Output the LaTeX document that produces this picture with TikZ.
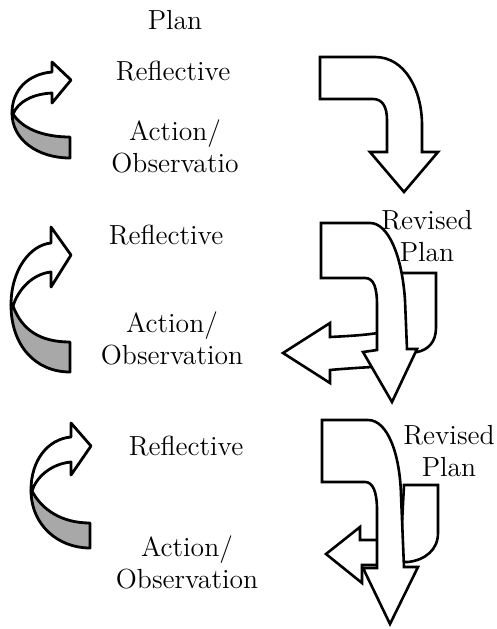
\documentclass[tikz,border=0pt]{standalone}
\usepackage{xcolor}
\usepackage{tikz}
\definecolor{bandGray}{HTML}{A8A8A8}

\begin{document}
\begin{tikzpicture}[x=0.5pt,y=-0.5pt,
  lbl/.style={font=\fontsize{13.8}{16}\selectfont,inner sep=0pt,align=center},
  front/.style={draw=black,fill=white,line width=1.4pt,line join=round},
  back/.style={draw=black,fill=bandGray,line width=1.4pt,line join=round},
  turn/.style={draw=black,fill=white,line width=1.3pt}]
\useasboundingbox (0,0) rectangle (497,629);
% left: curved arrows
\draw[back] (12,113) .. controls (12,140) and (38,158) .. (70,158) -- (70,137) .. controls (42,137) and (22,128) .. (13,114) -- cycle;
\draw[front] (52,72) .. controls (28,74) and (12,90) .. (12,113) -- (13,114) .. controls (18,102) and (32,94) .. (52,93) -- (52,103) -- (71,80) -- (52,62) -- cycle;
\draw[back] (11,305) .. controls (11,345) and (35,372) .. (70,372) -- (70,342) .. controls (40,342) and (22,330) .. (13,306) -- cycle;
\draw[front] (51,243) .. controls (30,245) and (11,270) .. (11,305) -- (13,306) .. controls (18,290) and (32,274) .. (51,272) -- (51,287) -- (71,255) -- (51,227) -- cycle;
\draw[back] (31,490) .. controls (31,525) and (58,548) .. (90,548) -- (90,523) .. controls (62,523) and (42,510) .. (32,491) -- cycle;
\draw[front] (71,437) .. controls (48,439) and (31,460) .. (31,490) -- (32,491) .. controls (36,478) and (50,464) .. (71,462) -- (71,475) -- (91,446) -- (71,423) -- cycle;
% right: bent arrows
\draw[turn] (320,57) -- (375,57) .. controls (405,57) and (422,90) .. (422,125) -- (422,152) -- (438,152) -- (404,192) -- (370,152) -- (387,152) -- (387,120) .. controls (387,106) and (382,99) .. (373,99) -- (320,99) -- cycle;
\draw[turn] (398,273) -- (436,273) -- (436,328) .. controls (436,342) and (428,350) .. (417,352) -- (400,352) -- cycle;
\draw[turn] (283,353) -- (330,323) -- (330,337) .. controls (350,336) and (365,335) .. (378,333) -- (395,333) -- (395,367) -- (372,367) .. controls (355,368) and (340,369) .. (330,370) -- (330,383) -- cycle;
\draw[turn] (321,223) -- (370,223) .. controls (388,223) and (402,255) .. (405,300) -- (407,349) -- (417,349) -- (392,402) -- (363,352) -- (377,350) -- (377,305) .. controls (377,288) and (374,278) .. (365,278) -- (321,278) -- cycle;
\draw[turn] (404,485) -- (438,485) -- (438,533) .. controls (438,550) and (425,560) .. (408,562) -- (400,562) -- cycle;
\draw[turn] (326,554) -- (360,527) -- (360,540) -- (395,540) -- (395,565) -- (362,565) -- (362,583) -- cycle;
\draw[turn] (322,420) -- (368,420) .. controls (388,420) and (400,455) .. (401,495) -- (404,567) -- (418,567) -- (390,624) -- (363,568) -- (377,568) -- (377,510) .. controls (377,492) and (373,482) .. (365,482) -- (322,482) -- cycle;
% labels
\node[lbl,anchor=base] (plan) at (175,29) {Plan};
\node[lbl,anchor=base] (refl1) at (173,80) {Reflective};
\node[lbl] (act1) at (175,146) {Action/\\Observatio};
\node[lbl,anchor=base] (refl2) at (166,244) {Reflective};
\node[lbl] (act2) at (172,338) {Action/\\Observation};
\node[lbl,anchor=base] (refl3) at (186,455) {Reflective};
\node[lbl] (act3) at (187,562) {Action/\\Observation};
\node[lbl] (rev1) at (427,236) {Revised\\Plan};
\node[lbl] (rev2) at (449,451) {Revised\\Plan};
\end{tikzpicture}
\end{document}
